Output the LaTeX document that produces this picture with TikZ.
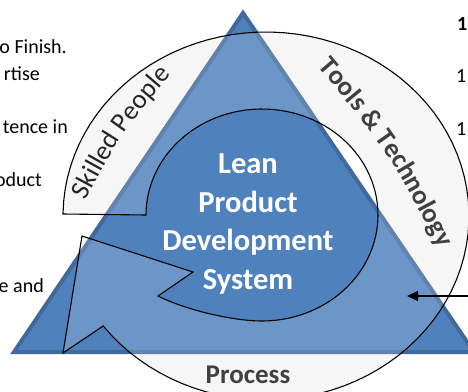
\documentclass[tikz,border=0pt]{standalone}
\usepackage{fontspec}
\setmainfont{Carlito}
\usetikzlibrary{arrows.meta,decorations.text}

\definecolor{triblue}{HTML}{4F81BD}
\definecolor{triedge}{HTML}{41699B}
\definecolor{bandgray}{HTML}{F5F5F5}
\definecolor{labelgray}{HTML}{404040}
\definecolor{labeldark}{HTML}{262626}

\newcommand{\centerfont}{\fontsize{30.5}{38.7}\selectfont\bfseries}
\newcommand{\labelfont}{\fontsize{27}{32}\selectfont}
\newcommand{\sidefont}{\fontsize{20}{24}\selectfont}

% the circular arrow band (outer arc, head, inner arc)
\newcommand{\bandpath}{(63,214)
    -- plot[domain=181:503.3,samples=90] ({266+203*cos(\x)},{216+184*sin(\x)})
    -- (headOuter) -- (headTip) -- (headInner) -- (158,296)
    .. controls (188,311) and (235,321) .. (262,321)
    -- plot[domain=450:180,samples=80] ({262+116*cos(\x)},{215+106*sin(\x)})
    -- cycle}

\begin{document}
\begin{tikzpicture}[
    x=1pt, y=-1pt,
    every node/.style={inner sep=0pt},
    >={Triangle[length=11pt,width=10pt]}
]
\useasboundingbox (0,0) rectangle (468,391);

% Puntas de la flecha circular
\coordinate (headOuter) at (63,353);
\coordinate (headTip) at (82,236);
\coordinate (headInner) at (193,272);

% Banda gris debajo de la piramide
\fill[bandgray] \bandpath;

% Piramide
\coordinate (apex) at (243,13);
\coordinate (baseL) at (14,352);
\coordinate (baseR) at (474,352);
\filldraw[fill=triblue, draw=triedge, line width=4pt]
    (apex) -- (baseL) -- (baseR) -- cycle;

% Velo claro y contorno de la banda
\fill[white, opacity=0.17] \bandpath;
\draw[line width=1.1pt] \bandpath;

% Textos sobre la banda
\path[decorate, decoration={text along path, text align=center,
    text color=labeldark, text={|\labelfont|Skilled People}}]
    (71,228) .. controls (121,132) .. (192,51);
\path[decorate, decoration={text along path, text align=center,
    text color=labelgray, text={|\labelfont\bfseries|Tools {\&} Technology}}]
    (293,38) .. controls (389,150) .. (456,282);
\node[text=labelgray, font=\labelfont\bfseries, anchor=base] (process)
    at (248,383) {Process};

% Texto central
\node[text=white, font=\centerfont, align=center] (lpds)
    at (248,224) {Lean\\Product\\Development\\System};

% Textos cortados a la izquierda
\node[font=\sidefont, anchor=base east] (leftA) at (67,53) {o Finish.};
\node[font=\sidefont, anchor=base east] (leftB) at (40,80) {rtise};
\node[font=\sidefont, anchor=base east] (leftC) at (68,133) {tence in};
\node[font=\sidefont, anchor=base east] (leftD) at (42,186) {oduct};
\node[font=\sidefont, anchor=base east] (leftE) at (44,292) {e and};

% Textos cortados a la derecha
\node[font=\sidefont\bfseries, anchor=base west] (rightA) at (457,30) {11};
\node[font=\sidefont, anchor=base west] (rightB) at (456,82) {11};
\node[font=\sidefont, anchor=base west] (rightC) at (456,135) {11};

% Flecha que entra por la derecha
\coordinate (ptrTail) at (470,296);
\coordinate (ptrTip) at (407,296);
\draw[->, line width=1.2pt] (ptrTail) -- (ptrTip);

\end{tikzpicture}
\end{document}
